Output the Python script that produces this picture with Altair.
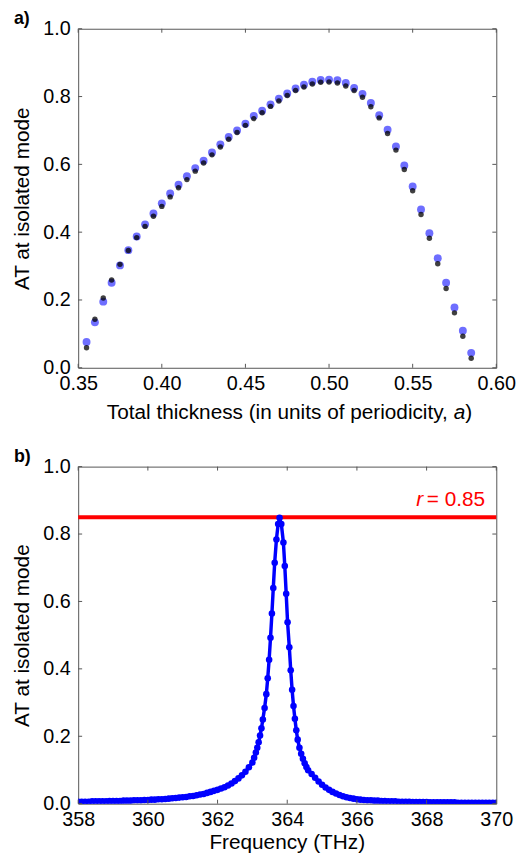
import altair as alt
import pandas as pd

# ---------------- data ----------------
thickness = [0.355, 0.360, 0.365, 0.370, 0.375, 0.380, 0.385, 0.390, 0.395, 0.400,
             0.405, 0.410, 0.415, 0.420, 0.425, 0.430, 0.435, 0.440, 0.445, 0.450,
             0.455, 0.460, 0.465, 0.470, 0.475, 0.480, 0.485, 0.490, 0.495, 0.500,
             0.505, 0.510, 0.515, 0.520, 0.525, 0.530, 0.535, 0.540, 0.545, 0.550,
             0.555, 0.560, 0.565, 0.570, 0.575, 0.580, 0.585]
at_blue = [0.076, 0.134, 0.195, 0.251, 0.302, 0.347, 0.387, 0.423, 0.455, 0.485,
           0.514, 0.540, 0.565, 0.589, 0.611, 0.635, 0.659, 0.681, 0.700, 0.720,
           0.743, 0.758, 0.777, 0.794, 0.809, 0.824, 0.835, 0.844, 0.849, 0.850,
           0.848, 0.840, 0.825, 0.808, 0.781, 0.745, 0.702, 0.653, 0.597, 0.535,
           0.467, 0.397, 0.323, 0.251, 0.178, 0.109, 0.044]
at_black = [0.059, 0.143, 0.206, 0.259, 0.305, 0.346, 0.384, 0.417, 0.447, 0.476,
            0.504, 0.531, 0.555, 0.580, 0.604, 0.628, 0.651, 0.674, 0.694, 0.715,
            0.735, 0.752, 0.771, 0.787, 0.803, 0.818, 0.828, 0.837, 0.842, 0.843,
            0.840, 0.831, 0.818, 0.798, 0.770, 0.737, 0.691, 0.642, 0.585, 0.522,
            0.452, 0.382, 0.307, 0.234, 0.162, 0.093, 0.028]

freq = [358.0, 358.1, 358.2, 358.3, 358.4, 358.5, 358.6, 358.7, 358.8, 358.9,
        359.0, 359.1, 359.2, 359.3, 359.4, 359.5, 359.6, 359.7, 359.8, 359.9,
        360.0, 360.1, 360.2, 360.3, 360.4, 360.5, 360.6, 360.7, 360.8, 360.9,
        361.0, 361.1, 361.2, 361.3, 361.4, 361.5, 361.6, 361.7, 361.8, 361.9,
        362.0, 362.1, 362.2, 362.3, 362.4, 362.5, 362.6, 362.7, 362.8, 362.9,
        363.00, 363.05, 363.10, 363.14, 363.18, 363.22, 363.26, 363.30, 363.35, 363.40,
        363.44, 363.48, 363.52, 363.56, 363.60, 363.64, 363.69, 363.74, 363.78, 363.83,
        363.89, 363.93, 363.97, 364.01, 364.06, 364.10, 364.14, 364.18, 364.22, 364.26,
        364.30, 364.35, 364.40, 364.45, 364.50, 364.55, 364.60,
        364.7, 364.8, 364.9, 365.0, 365.1, 365.2, 365.3, 365.4, 365.5, 365.6,
        365.7, 365.8, 365.9, 366.0, 366.1, 366.2, 366.3, 366.4, 366.5, 366.6,
        366.7, 366.8, 366.9, 367.0, 367.1, 367.2, 367.3, 367.4, 367.5, 367.6,
        367.7, 367.8, 367.9, 368.0, 368.1, 368.2, 368.3, 368.4, 368.5, 368.6,
        368.7, 368.8, 368.9, 369.0, 369.1, 369.2, 369.3, 369.4, 369.5, 369.6,
        369.7, 369.8, 369.9, 370.0]
at_freq = [0.006, 0.006, 0.006, 0.006, 0.007, 0.007, 0.007, 0.007, 0.007, 0.008,
           0.008, 0.008, 0.008, 0.009, 0.009, 0.009, 0.010, 0.010, 0.010, 0.011,
           0.011, 0.012, 0.012, 0.013, 0.013, 0.014, 0.015, 0.016, 0.017, 0.018,
           0.019, 0.020, 0.022, 0.023, 0.025, 0.027, 0.029, 0.032, 0.035, 0.038,
           0.041, 0.045, 0.049, 0.054, 0.060, 0.067, 0.075, 0.084, 0.095, 0.108,
           0.122, 0.136, 0.152, 0.166, 0.182, 0.202, 0.224, 0.250, 0.284, 0.325,
           0.372, 0.427, 0.492, 0.564, 0.640, 0.715, 0.784, 0.830, 0.848, 0.830,
           0.775, 0.705, 0.623, 0.538, 0.464, 0.396, 0.338, 0.290, 0.252, 0.218,
           0.190, 0.166, 0.148, 0.133, 0.120, 0.109, 0.099,
           0.088, 0.077, 0.066, 0.056, 0.048, 0.041, 0.035, 0.030, 0.026, 0.022,
           0.019, 0.017, 0.015, 0.013, 0.012, 0.011, 0.010, 0.010, 0.009, 0.009,
           0.008, 0.008, 0.007, 0.007, 0.007, 0.006, 0.006, 0.006, 0.006, 0.005,
           0.005, 0.005, 0.005, 0.005, 0.004, 0.004, 0.004, 0.004, 0.004, 0.004,
           0.004, 0.004, 0.003, 0.003, 0.003, 0.003, 0.003, 0.003, 0.003, 0.003,
           0.003, 0.003, 0.003, 0.003]

r_value = [0.85]
x1_ticks = [0.35, 0.40, 0.45, 0.50, 0.55, 0.60]
x2_ticks = [358, 360, 362, 364, 366, 368, 370]
y_ticks = [0.0, 0.2, 0.4, 0.6, 0.8, 1.0]

FONT = "Liberation Sans"
W = 423
H1 = 343
H2 = 341
TICK = "#555555"
TL = 4

xs1 = alt.Scale(domain=[0.35, 0.60], nice=False, zero=False)
xs2 = alt.Scale(domain=[358, 370], nice=False, zero=False)
ys = alt.Scale(domain=[0, 1], nice=False)


def xaxis(values, fmt, lpad):
    return alt.Axis(values=values, format=fmt, title="", ticks=False, domain=False,
                    grid=False, labelFont=FONT, labelFontSize=20, labelColor="black",
                    labelPadding=lpad, labelOverlap=False, labelFlush=False)


yaxis = alt.Axis(values=y_ticks, format=".1f", title="AT at isolated mode", ticks=False,
                 domain=False, grid=False, labelFont=FONT, labelFontSize=20,
                 labelColor="black", labelPadding=8, labelOverlap=False, labelFlush=False,
                 titleFont=FONT, titleFontSize=21, titleFontWeight="normal",
                 titleColor="black", titlePadding=10)

ax1 = xaxis(x1_ticks, ".2f", 6)
ax2 = xaxis(x2_ticks, "d", 6)


def inner_ticks(xscale, xaxis_obj, xvals, h):
    xdf = pd.DataFrame({"v": xvals})
    ydf = pd.DataFrame({"w": y_ticks})
    xb = alt.Chart(xdf).mark_rule(color=TICK, strokeWidth=1).encode(
        x=alt.X("v:Q", scale=xscale, axis=xaxis_obj), y=alt.value(h), y2=alt.value(h - TL))
    xt = alt.Chart(xdf).mark_rule(color=TICK, strokeWidth=1).encode(
        x=alt.X("v:Q", scale=xscale, axis=xaxis_obj), y=alt.value(0), y2=alt.value(TL))
    yl = alt.Chart(ydf).mark_rule(color=TICK, strokeWidth=1).encode(
        y=alt.Y("w:Q", scale=ys, axis=yaxis), x=alt.value(0), x2=alt.value(TL))
    yr = alt.Chart(ydf).mark_rule(color=TICK, strokeWidth=1).encode(
        y=alt.Y("w:Q", scale=ys, axis=yaxis), x=alt.value(W), x2=alt.value(W - TL))
    return [xb, xt, yl, yr]


def text(t, x, y, size=21, style="normal", weight="normal", align="left", color="black"):
    return alt.Chart(pd.DataFrame({"t": [t]})).mark_text(
        font=FONT, fontSize=size, fontStyle=style, fontWeight=weight, align=align,
        baseline="alphabetic", color=color).encode(
        text="t:N", x=alt.value(x), y=alt.value(y))


# ---------------- panel a ----------------
df1 = pd.DataFrame({"thickness": thickness, "blue": at_blue, "black": at_black})
blue_pts = alt.Chart(df1).mark_circle(size=64, color="#6e6eff", opacity=1).encode(
    x=alt.X("thickness:Q", scale=xs1, axis=ax1),
    y=alt.Y("blue:Q", scale=ys, axis=yaxis))
black_pts = alt.Chart(df1).mark_circle(size=30, color="black", opacity=0.75).encode(
    x=alt.X("thickness:Q", scale=xs1, axis=ax1),
    y=alt.Y("black:Q", scale=ys, axis=yaxis))

top = alt.layer(
    blue_pts, black_pts, *inner_ticks(xs1, ax1, x1_ticks, H1),
    text("Total thickness (in units of periodicity,", 374, H1 + 52, align="right"),
    text("a", 380, H1 + 52, style="italic"),
    text(")", 391.5, H1 + 52),
    text("a)", -65, -5, size=18, weight="bold"),
).properties(width=W, height=H1)

# ---------------- panel b ----------------
df2 = pd.DataFrame({"freq": freq, "at": at_freq})
red = alt.Chart(pd.DataFrame({"r": r_value})).mark_rule(color="#ff0000", strokeWidth=4).encode(
    y=alt.Y("r:Q", scale=ys, axis=yaxis))
line = alt.Chart(df2).mark_line(color="#0000ff", strokeWidth=3.5, clip=True).encode(
    x=alt.X("freq:Q", scale=xs2, axis=ax2),
    y=alt.Y("at:Q", scale=ys, axis=yaxis))
pts = alt.Chart(df2).mark_circle(size=44, color="#0000ff", opacity=1, clip=True).encode(
    x=alt.X("freq:Q", scale=xs2, axis=ax2),
    y=alt.Y("at:Q", scale=ys, axis=yaxis))

bottom = alt.layer(
    red, line, pts, *inner_ticks(xs2, ax2, x2_ticks, H2),
    text("r", 342, 40, style="italic", color="#ff0000"),
    text("= 0.85", 411.7, 40, align="right", color="#ff0000"),
    text("Frequency (THz)", W / 2, H2 + 46, align="center"),
    text("b)", -65, -5, size=18, weight="bold"),
).properties(width=W, height=H2)

chart = alt.vconcat(top, bottom, spacing=100, bounds="flush").properties(
    padding={"left": 3, "top": -4, "right": 5, "bottom": 2}
).configure_view(stroke="#555555", strokeWidth=1)

chart.save("out.html", embed_options={"renderer": "svg", "actions": False})
